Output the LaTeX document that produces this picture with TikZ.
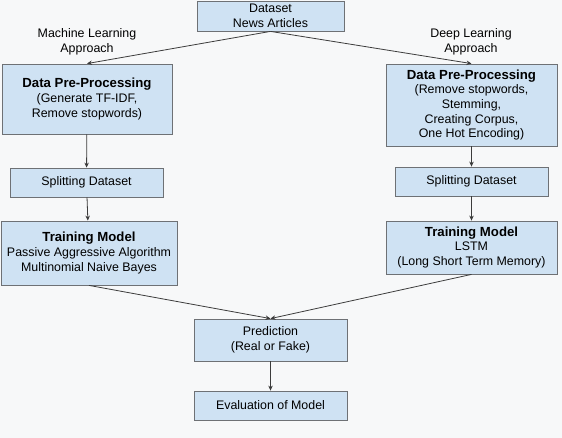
\documentclass[tikz,border=0pt]{standalone}
\usepackage{fontspec}
\setmainfont{Liberation Sans}
\usetikzlibrary{arrows.meta}
\definecolor{boxblue}{HTML}{CFE2F3}
\definecolor{boxline}{HTML}{6E7175}
\definecolor{arrowgray}{HTML}{3C3C3C}
\definecolor{bgcol}{HTML}{F7F8F9}
\tikzset{
  box/.style={shape=rectangle,draw=boxline,fill=boxblue,align=center,inner sep=0pt,font=\fontsize{12.4}{14.6}\selectfont},
  lbl/.style={align=center,font=\fontsize{12.4}{14.6}\selectfont},
}
\newcommand{\boxtitle}[1]{{\fontsize{13.2}{14.6}\selectfont\bfseries #1}}
\begin{document}
\begin{tikzpicture}[x=1pt,y=-1pt,>={Stealth[length=5pt,width=4.5pt]},line width=0.8pt,every edge/.append style={draw=arrowgray}]
            \fill[bgcol] (0,0) rectangle (562,438);
            \useasboundingbox (0,0) rectangle (562,438);

            \node[box,minimum width=147pt,minimum height=30pt] (A) at (270.5,16) {Dataset\\News Articles};
            \node[lbl] (L1) at (87,41.5) {Machine Learning\\Approach};
            \node[lbl] (L2) at (471,41.5) {Deep Learning\\Approach};
            \node[box,minimum width=170pt,minimum height=70pt] (B) at (87,99) {\boxtitle{Data Pre-Processing}\\(Generate TF-IDF,\\Remove stopwords)};
            \node[box,minimum width=171pt,minimum height=82pt] (C) at (471.5,105) {\boxtitle{Data Pre-Processing}\\(Remove stopwords,\\Stemming,\\Creating Corpus,\\One Hot Encoding)};
            \node[box,minimum width=153pt,minimum height=29pt] (D) at (86.5,182.5) {Splitting Dataset};
            \node[box,minimum width=153pt,minimum height=29pt] (E) at (471.5,181.5) {Splitting Dataset};
            \node[box,minimum width=176pt,minimum height=64pt] (F) at (89,253) {\boxtitle{Training Model}\\Passive Aggressive Algorithm\\Multinomial Naive Bayes};
            \node[box,minimum width=171pt,minimum height=53pt] (G) at (471.5,247.5) {\boxtitle{Training Model}\\LSTM\\(Long Short Term Memory)};
            \node[box,minimum width=153pt,minimum height=42pt] (H) at (270.5,340) {Prediction\\(Real or Fake)};
            \node[box,minimum width=153pt,minimum height=29pt] (I) at (270.5,405.5) {Evaluation of Model};

            \path [->] (A.south) edge (B.north);
            \path [->] (A.south) edge (C.north);
            \path [->] (B) edge (D);
            \path [->] (C) edge (E);
            \path [->] (D) edge (F);
            \path [->] (E) edge (G);
            \path [->] (F.south) edge (H.north);
            \path [->] (G.south) edge (H.north);
            \path [->] (H) edge (I);
        \end{tikzpicture}
\end{document}
